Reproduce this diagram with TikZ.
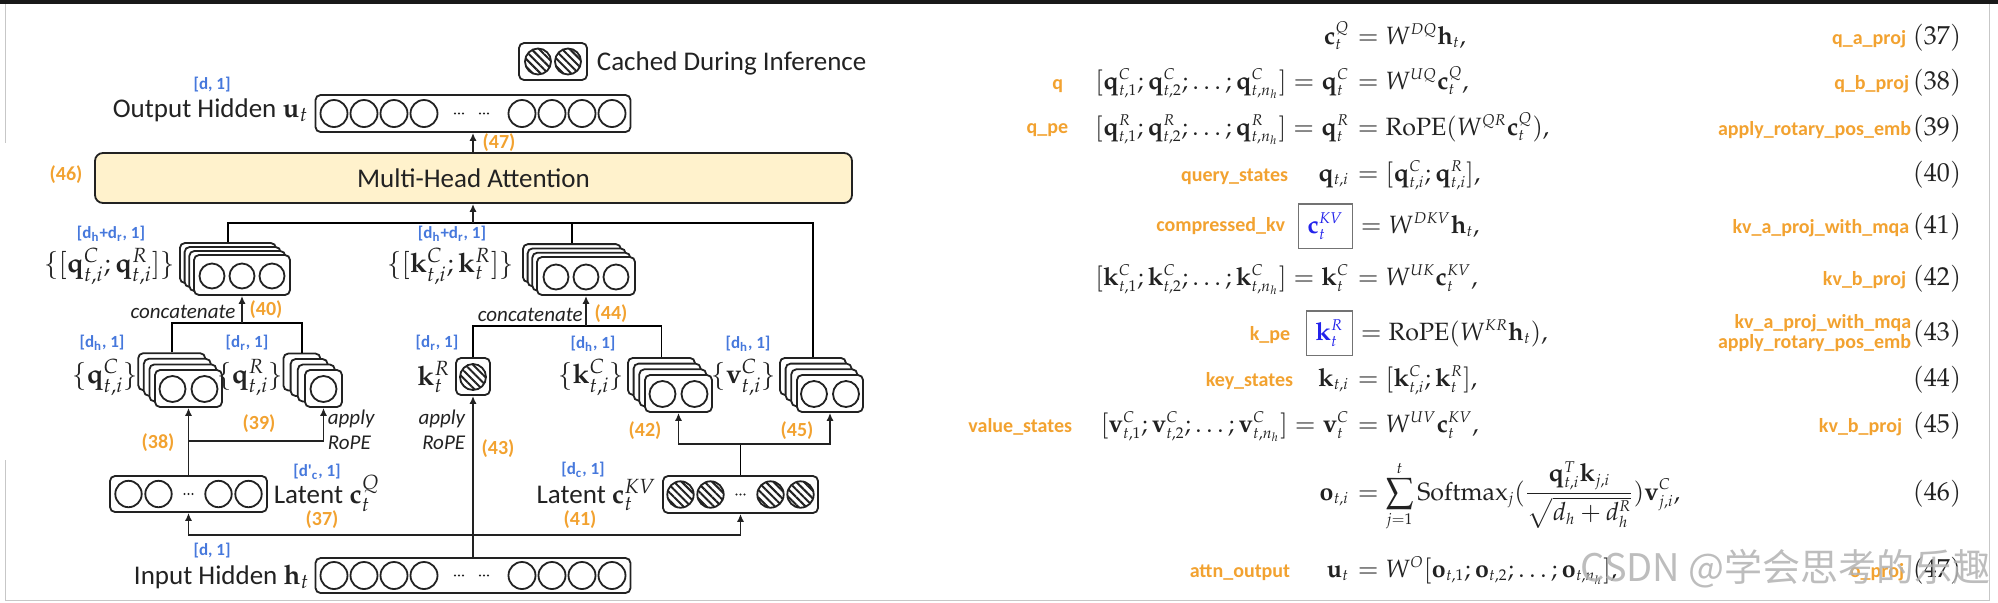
\documentclass[tikz,border=0pt]{standalone}
\usepackage[no-math]{fontspec}
\usepackage{mathpazo}
\usetikzlibrary{arrows.meta,patterns.meta,calc}
\newfontfamily\carlito{Carlito}
\newfontfamily\cjk{Noto Sans CJK SC}
\DeclareMathSizes{12.5}{12.5}{7.8}{6}
\definecolor{dimblue}{RGB}{70,120,220}
\definecolor{refor}{RGB}{242,162,48}
\definecolor{attnfill}{RGB}{255,242,204}
\definecolor{boxblue}{RGB}{35,35,235}
\definecolor{ink}{RGB}{34,34,34}
\begin{document}
\begin{tikzpicture}[x=0.5pt, y=-0.5pt, >={Latex[length=4pt,width=3.6pt]}, line width=0.9pt,
  vecbox/.style={draw=ink, fill=white, rounded corners=2.5pt, inner sep=0pt},
  cell/.style={draw=ink, line width=0.9pt},
  hcell/.style={cell, pattern={Lines[angle=-45,distance=2.7pt,line width=1pt]}, pattern color=ink},
  flow/.style={draw=ink, ->},
  dimlab/.style={text=dimblue, font=\carlito\bfseries\fontsize{8.5}{10}\selectfont, inner sep=0pt},
  eqref/.style={text=refor, font=\carlito\bfseries\fontsize{10}{12}\selectfont, inner sep=0pt},
  optext/.style={text=ink, font=\carlito\itshape\fontsize{10.5}{12.5}\selectfont, inner sep=0pt},
  biglab/.style={text=ink, font=\carlito\fontsize{13.5}{16}\selectfont, inner sep=0pt},
  eqn/.style={text=ink, font=\fontsize{12.5}{15}\selectfont, inner sep=0pt},
  eqno/.style={text=ink, font=\fontsize{13}{15}\selectfont, inner sep=0pt, anchor=base east},
  codetag/.style={text=refor, font=\carlito\bfseries\fontsize{10}{12}\selectfont, inner sep=0pt}]
  \useasboundingbox (0,0) rectangle (1998,602);
  % screenshot frame
  \fill[black!90] (0,0) rectangle (1998,4);
  \draw[black!22, line width=0.5pt] (5,4) -- (5,143) (5,460) -- (5,600) -- (1989,600) -- (1989,4);

  % ---------------- left: MLA data flow ----------------
  % legend
  \node[vecbox, minimum width=34pt, minimum height=18.5pt] (legend) at (553,61.5) {};
  \foreach \cx in {538,568} \draw[hcell] (\cx,61.5) circle[radius=6.5pt];
  \node[biglab, anchor=base west] (legendlab) at (596,70) {Cached During Inference};

  % output hidden
  \node[vecbox, minimum width=157.5pt, minimum height=18.5pt] (uout) at (473,113.5) {};
  \foreach \cx in {334,364,394,424,522,552,582,612} \draw[cell] (\cx,113.5) circle[radius=6.75pt];
  \foreach \cx in {455,459,463,480,484,488} \fill[ink] (\cx,113.5) circle[radius=0.55pt];
  \node[biglab, anchor=base east] (uoutlab) at (309,117) {Output Hidden $\mathbf{u}_t$};
  \node[dimlab] (uoutdim) at (212,85) {[d, 1]};

  % attention block
  \node[draw=ink, fill=attnfill, rounded corners=4pt, minimum width=378.5pt, minimum height=25pt, biglab] (mha) at (473.5,178) {Multi-Head Attention};
  \node[eqref] (r46) at (66,175) {(46)};
  \draw[flow] (uout.south |- mha.north) -- (uout.south);
  \node[eqref] (r47) at (499,143) {(47)};

  % concatenated queries
  \foreach \i in {3,2,1,0}
    \node[vecbox, minimum width=48pt, minimum height=20pt] (qcat-\i) at ({242-4.7*\i},{275-4*\i}) {};
  \foreach \cx in {212,242,272} \draw[cell] (\cx,276) circle[radius=6.25pt];
  \node[dimlab] (qcatdim) at (111,234) {[d\textsubscript{h}+d\textsubscript{r}, 1]};
  \node[biglab, anchor=base east] (qcatlab) at (176,272) {$\{[\mathbf{q}^C_{t,i};\mathbf{q}^R_{t,i}]\}$};

  % concatenated keys
  \foreach \i in {3,2,1,0}
    \node[vecbox, minimum width=49pt, minimum height=19pt] (kcat-\i) at ({586-4.7*\i},{276-4.3*\i}) {};
  \foreach \cx in {556,586,616} \draw[cell] (\cx,277) circle[radius=6.25pt];
  \node[dimlab] (kcatdim) at (452,234) {[d\textsubscript{h}+d\textsubscript{r}, 1]};
  \node[biglab, anchor=base east] (kcatlab) at (515,272) {$\{[\mathbf{k}^C_{t,i};\mathbf{k}^R_{t}]\}$};

  % per-head queries
  \foreach \i in {3,2,1,0}
    \node[vecbox, minimum width=33.5pt, minimum height=18.5pt] (qc-\i) at ({188.5-5.6*\i},{388.5-5.6*\i}) {};
  \foreach \cx in {172.5,204.5} \draw[cell] (\cx,389) circle[radius=6.5pt];
  \node[dimlab] (qcdim) at (102,343) {[d\textsubscript{h}, 1]};
  \node[biglab, anchor=base east] (qclab) at (139,383) {$\{\mathbf{q}^C_{t,i}\}$};

  \foreach \i in {3,2,1,0}
    \node[vecbox, minimum width=18.5pt, minimum height=18.5pt] (qr-\i) at ({323.5-7.2*\i},{388.5-5.5*\i}) {};
  \draw[cell] (323.5,389) circle[radius=6.5pt];
  \node[dimlab] (qrdim) at (247,343) {[d\textsubscript{r}, 1]};
  \node[biglab, anchor=base east] (qrlab) at (284,383) {$\{\mathbf{q}^R_{t,i}\}$};

  % decoupled key
  \node[vecbox, minimum width=17pt, minimum height=18.5pt] (kr) at (473,376.5) {};
  \draw[hcell] (473,377) circle[radius=6.5pt];
  \node[dimlab] (krdim) at (437,343) {[d\textsubscript{r}, 1]};
  \node[biglab, anchor=base east] (krlab) at (451,385) {$\mathbf{k}^R_t$};

  % per-head keys and values
  \foreach \i in {3,2,1,0}
    \node[vecbox, minimum width=33.5pt, minimum height=18.5pt] (kc-\i) at ({678.5-5.7*\i},{393.5-5.7*\i}) {};
  \foreach \cx in {662.5,694.5} \draw[cell] (\cx,394) circle[radius=6.5pt];
  \node[dimlab] (kcdim) at (593,344) {[d\textsubscript{h}, 1]};
  \node[biglab, anchor=base east] (kclab) at (625,383) {$\{\mathbf{k}^C_{t,i}\}$};

  \foreach \i in {3,2,1,0}
    \node[vecbox, minimum width=33pt, minimum height=18.5pt] (vc-\i) at ({830-5.7*\i},{393.5-5.7*\i}) {};
  \foreach \cx in {814,846} \draw[cell] (\cx,394) circle[radius=6.5pt];
  \node[dimlab] (vcdim) at (748,344) {[d\textsubscript{h}, 1]};
  \node[biglab, anchor=base east] (vclab) at (777,383) {$\{\mathbf{v}^C_{t,i}\}$};

  % latent vectors
  \node[vecbox, minimum width=78.5pt, minimum height=18pt] (cq) at (188.5,494) {};
  \foreach \cx in {128.5,158.5,218.5,248.5} \draw[cell] (\cx,494) circle[radius=6.6pt];
  \foreach \cx in {184.5,188.5,192.5} \fill[ink] (\cx,494) circle[radius=0.55pt];
  \node[biglab, anchor=base west] (cqlab) at (273,503) {Latent $\mathbf{c}^Q_t$};
  \node[dimlab] (cqdim) at (317,472) {[d'\textsubscript{c}, 1]};
  \node[eqref] (r37) at (322,520) {(37)};

  \node[vecbox, minimum width=77.5pt, minimum height=18.5pt] (ckv) at (740.5,494.5) {};
  \foreach \cx in {680.5,710.5,770.5,800.5} \draw[hcell] (\cx,494.5) circle[radius=6.6pt];
  \foreach \cx in {736.5,740.5,744.5} \fill[ink] (\cx,494.5) circle[radius=0.55pt];
  \node[biglab, anchor=base east] (ckvlab) at (657,503) {Latent $\mathbf{c}^{KV}_t$};
  \node[dimlab] (ckvdim) at (583,470) {[d\textsubscript{c}, 1]};
  \node[eqref] (r41) at (580,520) {(41)};

  % input hidden
  \node[vecbox, minimum width=157.5pt, minimum height=17.5pt] (hin) at (473,575.5) {};
  \foreach \cx in {334,364,394,424,522,552,582,612} \draw[cell] (\cx,575.5) circle[radius=6.75pt];
  \foreach \cx in {455,459,463,480,484,488} \fill[ink] (\cx,575.5) circle[radius=0.55pt];
  \node[biglab, anchor=base east] (hinlab) at (310,584) {Input Hidden $\mathbf{h}_t$};
  \node[dimlab] (hindim) at (212,551) {[d, 1]};

  % connectors
  \coordinate (hsplit) at (473,535);
  \draw[flow] (hin.north) -- (kr.south);
  \draw[flow] (hsplit) -| (cq.south);
  \draw[flow] (hsplit) -| (ckv.south);

  \draw[flow] (cq.north) -- (qc-0.south);
  \coordinate (qsplit) at (188.5,441);
  \draw[flow] (qsplit) -| (qr-0.south);
  \node[eqref] (r38) at (158,443) {(38)};
  \node[eqref] (r39) at (259,424) {(39)};
  \node[optext, anchor=west, align=left] (qrope) at (327,430) {apply\\RoPE};
  \node[optext, anchor=east, align=right] (krope) at (466,430) {apply\\RoPE};
  \node[eqref] (r43) at (498,449) {(43)};

  \coordinate (kvsplit) at (740.5,444);
  \draw (ckv.north) -- (kvsplit);
  \draw[flow] (kvsplit) -| (kc-0.south);
  \draw[flow] (kvsplit) -| (vc-0.south);
  \node[eqref] (r42) at (645,431) {(42)};
  \node[eqref] (r45) at (797,431) {(45)};

  \coordinate (qjoin) at (242,323);
  \draw (qc-3.north) |- (qjoin) -| (qr-3.north);
  \draw[flow] (qjoin) -- (qcat-0.south);
  \node[optext] (qcatop) at (183,312) {concatenate};
  \node[eqref] (r40) at (266,310) {(40)};

  \coordinate (kjoin) at (586,326);
  \draw (kr.north) |- (kjoin) -| (kc-3.north);
  \draw[flow] (kjoin) -- (kcat-0.south);
  \node[optext, anchor=west] (kcatop) at (477,315) {concatenate};
  \node[eqref] (r44) at (611,314) {(44)};

  \coordinate (tjoin) at (473,223);
  \draw (qcat-3.north) |- (tjoin) -| (vc-3.north);
  \draw (kcat-3.north) -- (kcat-3.north |- tjoin);
  \draw[flow] (tjoin) -- (tjoin |- mha.south);

  % ---------------- right: equations ----------------
  % (37)
  \node[eqn, anchor=base east] (e37l) at (1350,44) {$\mathbf{c}_t^Q$};
  \node[eqn, anchor=base west] (e37r) at (1350,44) {${}= W^{DQ}\mathbf{h}_t,$};
  \node[codetag, anchor=base east] (t37) at (1907,44) {q\_a\_proj};
  \node[eqno] (n37) at (1962,44) {$(37)$};
  % (38)
  \node[codetag, anchor=base east] (s38) at (1064,89) {q};
  \node[eqn, anchor=base east] (e38l) at (1350,89) {$[\mathbf{q}^C_{t,1};\mathbf{q}^C_{t,2};\ldots;\mathbf{q}^C_{t,n_h}] = \mathbf{q}^C_t$};
  \node[eqn, anchor=base west] (e38r) at (1350,89) {${}= W^{UQ}\mathbf{c}^Q_t,$};
  \node[codetag, anchor=base east] (t38) at (1910,89) {q\_b\_proj};
  \node[eqno] (n38) at (1962,89) {$(38)$};
  % (39)
  \node[codetag, anchor=base east] (s39) at (1069,133) {q\_pe};
  \node[eqn, anchor=base east] (e39l) at (1350,135) {$[\mathbf{q}^R_{t,1};\mathbf{q}^R_{t,2};\ldots;\mathbf{q}^R_{t,n_h}] = \mathbf{q}^R_t$};
  \node[eqn, anchor=base west] (e39r) at (1350,135) {${}= \mathrm{RoPE}(W^{QR}\mathbf{c}^Q_t),$};
  \node[codetag, anchor=base east] (t39) at (1912,135) {apply\_rotary\_pos\_emb};
  \node[eqno] (n39) at (1962,135) {$(39)$};
  % (40)
  \node[codetag, anchor=base east] (s40) at (1289,181) {query\_states};
  \node[eqn, anchor=base east] (e40l) at (1350,181) {$\mathbf{q}_{t,i}$};
  \node[eqn, anchor=base west] (e40r) at (1350,181) {${}= [\mathbf{q}^C_{t,i};\mathbf{q}^R_{t,i}],$};
  \node[eqno] (n40) at (1962,181) {$(40)$};
  % (41)
  \node[codetag, anchor=base east] (s41) at (1286,231) {compressed\_kv};
  \node[eqn, draw=black!55, line width=0.7pt, inner xsep=4.5pt, inner ysep=4.5pt, anchor=base east] (e41l) at (1353,233) {$\color{boxblue}\mathbf{c}^{KV}_t$};
  \node[eqn, anchor=base west] (e41r) at (1353,233) {${}= W^{DKV}\mathbf{h}_t,$};
  \node[codetag, anchor=base east] (t41) at (1910,233) {kv\_a\_proj\_with\_mqa};
  \node[eqno] (n41) at (1962,233) {$(41)$};
  % (42)
  \node[eqn, anchor=base east] (e42l) at (1350,285) {$[\mathbf{k}^C_{t,1};\mathbf{k}^C_{t,2};\ldots;\mathbf{k}^C_{t,n_h}] = \mathbf{k}^C_t$};
  \node[eqn, anchor=base west] (e42r) at (1350,285) {${}= W^{UK}\mathbf{c}^{KV}_t,$};
  \node[codetag, anchor=base east] (t42) at (1907,285) {kv\_b\_proj};
  \node[eqno] (n42) at (1962,285) {$(42)$};
  % (43)
  \node[codetag, anchor=base east] (s43) at (1291,340) {k\_pe};
  \node[eqn, draw=black!55, line width=0.7pt, inner xsep=4.5pt, inner ysep=4.5pt, anchor=base east] (e43l) at (1353,340) {$\color{boxblue}\mathbf{k}^{R}_t$};
  \node[eqn, anchor=base west] (e43r) at (1353,340) {${}= \mathrm{RoPE}(W^{KR}\mathbf{h}_t),$};
  \node[codetag, anchor=east, align=right, font=\carlito\bfseries\fontsize{10}{8.5}\selectfont] (t43) at (1912,333) {kv\_a\_proj\_with\_mqa\\apply\_rotary\_pos\_emb};
  \node[eqno] (n43) at (1962,340) {$(43)$};
  % (44)
  \node[codetag, anchor=base east] (s44) at (1294,386) {key\_states};
  \node[eqn, anchor=base east] (e44l) at (1350,386) {$\mathbf{k}_{t,i}$};
  \node[eqn, anchor=base west] (e44r) at (1350,386) {${}= [\mathbf{k}^C_{t,i};\mathbf{k}^R_{t}],$};
  \node[eqno] (n44) at (1962,386) {$(44)$};
  % (45)
  \node[codetag, anchor=base east] (s45) at (1073,432) {value\_states};
  \node[eqn, anchor=base east] (e45l) at (1350,432) {$[\mathbf{v}^C_{t,1};\mathbf{v}^C_{t,2};\ldots;\mathbf{v}^C_{t,n_h}] = \mathbf{v}^C_t$};
  \node[eqn, anchor=base west] (e45r) at (1350,432) {${}= W^{UV}\mathbf{c}^{KV}_t,$};
  \node[codetag, anchor=base east] (t45) at (1903,432) {kv\_b\_proj};
  \node[eqno] (n45) at (1962,432) {$(45)$};
  % (46)
  \node[eqn, anchor=base east] (e46l) at (1350,500) {$\mathbf{o}_{t,i}$};
  \node[eqn, anchor=base west] (e46r) at (1350,500) {$\displaystyle {}= \sum_{j=1}^{t}\mathrm{Softmax}_j(\frac{\mathbf{q}^T_{t,i}\mathbf{k}_{j,i}}{\sqrt{d_h+d^R_h}})\mathbf{v}^C_{j,i},$};
  \node[eqno] (n46) at (1962,500) {$(46)$};
  % (47)
  \node[codetag, anchor=base east] (s47) at (1291,577) {attn\_output};
  \node[eqn, anchor=base east] (e47l) at (1350,577) {$\mathbf{u}_t$};
  \node[eqn, anchor=base west] (e47r) at (1350,577) {${}= W^{O}[\mathbf{o}_{t,1};\mathbf{o}_{t,2};\ldots;\mathbf{o}_{t,n_h}],$};
  \node[codetag, anchor=base east] (t47) at (1905,577) {o\_proj};
  \node[eqno] (n47) at (1962,577) {$(47)$};

  % watermark
  \node[text=black!30, text opacity=0.85, font=\cjk\fontsize{19}{22}\selectfont, anchor=base west, inner sep=0pt] (wmark) at (1580,581) {CSDN @学会思考的乐趣};
\end{tikzpicture}
\end{document}
